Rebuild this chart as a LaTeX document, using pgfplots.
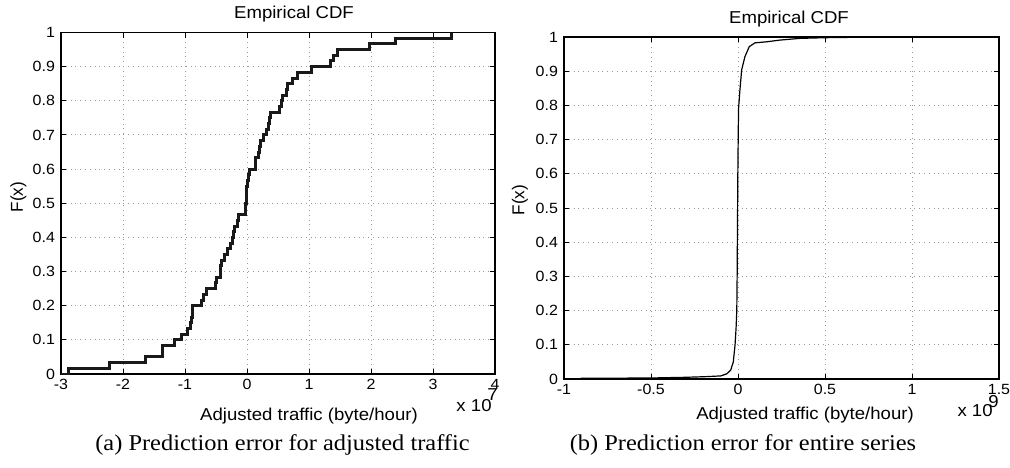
\documentclass[border=0pt]{standalone}
\usepackage{fontspec}
\setmainfont{Liberation Serif}
\newfontfamily\arial{Liberation Sans}
\usepackage{graphicx}
\usepackage{pgfplots}
\usepackage{pgfplotstable}
\pgfplotsset{compat=1.18}

% the reference is slightly stretched sideways
\newcommand{\sx}[1]{\scalebox{1.08}[1]{#1}}

\pgfplotsset{
  matlab/.style={
    scale only axis,
    anchor=south west,
    axis line style={line width=0.7pt},
    tick style={line width=0.5pt, black},
    major tick length=2.5pt,
    grid=major,
    grid style={dotted, gray!80, line width=0.5pt},
    ymin=0, ymax=1,
    ytick={0,0.1,...,1.0},
    yticklabels={\sx{0},\sx{0.1},\sx{0.2},\sx{0.3},\sx{0.4},\sx{0.5},\sx{0.6},\sx{0.7},\sx{0.8},\sx{0.9},\sx{1}},
    every tick label/.append style={font=\arial\fontsize{7.4}{9}\selectfont},
    xticklabel style={yshift=1pt},
    yticklabel style={xshift=0.5pt},
  }
}

% empirical CDF of the adjusted traffic prediction error (x in 10^7 byte/hour)
\pgfplotstableread{
x      k
-3.000 0
-2.880 1
-2.210 2
-1.630 3
-1.370 5
-1.170 6
-1.055 7
-0.957 8
-0.919 9
-0.892 10
-0.876 12
-0.731 13
-0.705 14
-0.650 15
-0.516 16
-0.490 17
-0.424 19
-0.408 20
-0.360 21
-0.317 22
-0.263 23
-0.240 24
-0.220 25
-0.194 26
-0.160 27
-0.140 28
-0.032 29
-0.020 30
-0.012 31
-0.005 33
0.010  34
0.025  35
0.038  36
0.129  38
0.183  39
0.200  40
0.220  41
0.263  42
0.317  43
0.340  44
0.355  45
0.371  46
0.532  47
0.555  48
0.575  49
0.629  50
0.651  51
0.737  52
0.817  53
1.043  54
1.349  55
1.392  56
1.457  57
1.973  58
2.403  59
3.301  60
}\adjusted

% empirical CDF of the prediction error for the entire series (x in 10^9 byte/hour)
\pgfplotstableread{
x       F
-0.920  0.000
-0.900  0.002
-0.700  0.0025
-0.500  0.003
-0.300  0.005
-0.180  0.007
-0.100  0.009
-0.065  0.015
-0.042  0.026
-0.027  0.050
-0.017  0.100
-0.011  0.150
-0.007  0.200
-0.005  0.300
-0.003  0.450
-0.001  0.600
0.001   0.700
0.003   0.790
0.011   0.845
0.021   0.904
0.040   0.943
0.065   0.972
0.098   0.983
0.165   0.986
0.241   0.991
0.356   0.996
0.500   0.998
0.800   1.000
}\entire

\begin{document}
\begin{tikzpicture}
\useasboundingbox (0,0) rectangle (505pt,-233.5pt);

\begin{axis}[matlab,
  at={(30.5pt,-187pt)},
  width=217pt, height=170.75pt,
  xmin=-3, xmax=4,
  xtick={-3,-2,...,4},
  xticklabels={\sx{-3},\sx{-2},\sx{-1},\sx{0},\sx{1},\sx{2},\sx{3},\sx{4}},
]
\addplot[const plot, line width=1.5pt, black!90] table[x=x, y expr=\thisrow{k}/60] {\adjusted};
\end{axis}

\begin{axis}[matlab,
  at={(282pt,-189.5pt)},
  width=217.5pt, height=171pt,
  xmin=-1, xmax=1.5,
  xtick={-1,-0.5,0,0.5,1,1.5},
  xticklabels={\sx{-1},\sx{-0.5},\sx{0},\sx{0.5},\sx{1},\sx{1.5}},
]
\addplot[line width=0.6pt, black] table[x=x, y=F] {\entire};
\end{axis}

\tikzset{lab/.style={font=\arial\fontsize{8.6}{10}\selectfont, inner sep=0pt}}
\node[lab] at (147pt,-7.25pt) {\sx{Empirical CDF}};
\node[lab] at (394.5pt,-9.5pt) {\sx{Empirical CDF}};
\node[lab, rotate=90] at (9.25pt,-98.5pt) {F(x)};
\node[lab, rotate=90] at (260pt,-100pt) {F(x)};
\node[lab] at (154.5pt,-208pt) {\sx{Adjusted traffic (byte/hour)}};
\node[lab] at (402.5pt,-207.5pt) {\sx{Adjusted traffic (byte/hour)}};
\node[lab, anchor=base east] at (246pt,-205.8pt) {\sx{x 10}};
\node[lab, anchor=base west] at (243.5pt,-200.3pt) {\sx{7}};
\node[lab, anchor=base east] at (496.5pt,-208.3pt) {\sx{x 10}};
\node[lab, anchor=base west] at (494pt,-203.7pt) {\sx{9}};

\tikzset{captxt/.style={font=\fontsize{11.3}{13}\selectfont, inner sep=0pt}}
\node[captxt, anchor=base] at (141.25pt,-225pt) {\sx{(a) Prediction error for adjusted traffic}};
\node[captxt, anchor=base] at (371.5pt,-225pt) {\sx{(b) Prediction error for entire series}};
\end{tikzpicture}
\end{document}
